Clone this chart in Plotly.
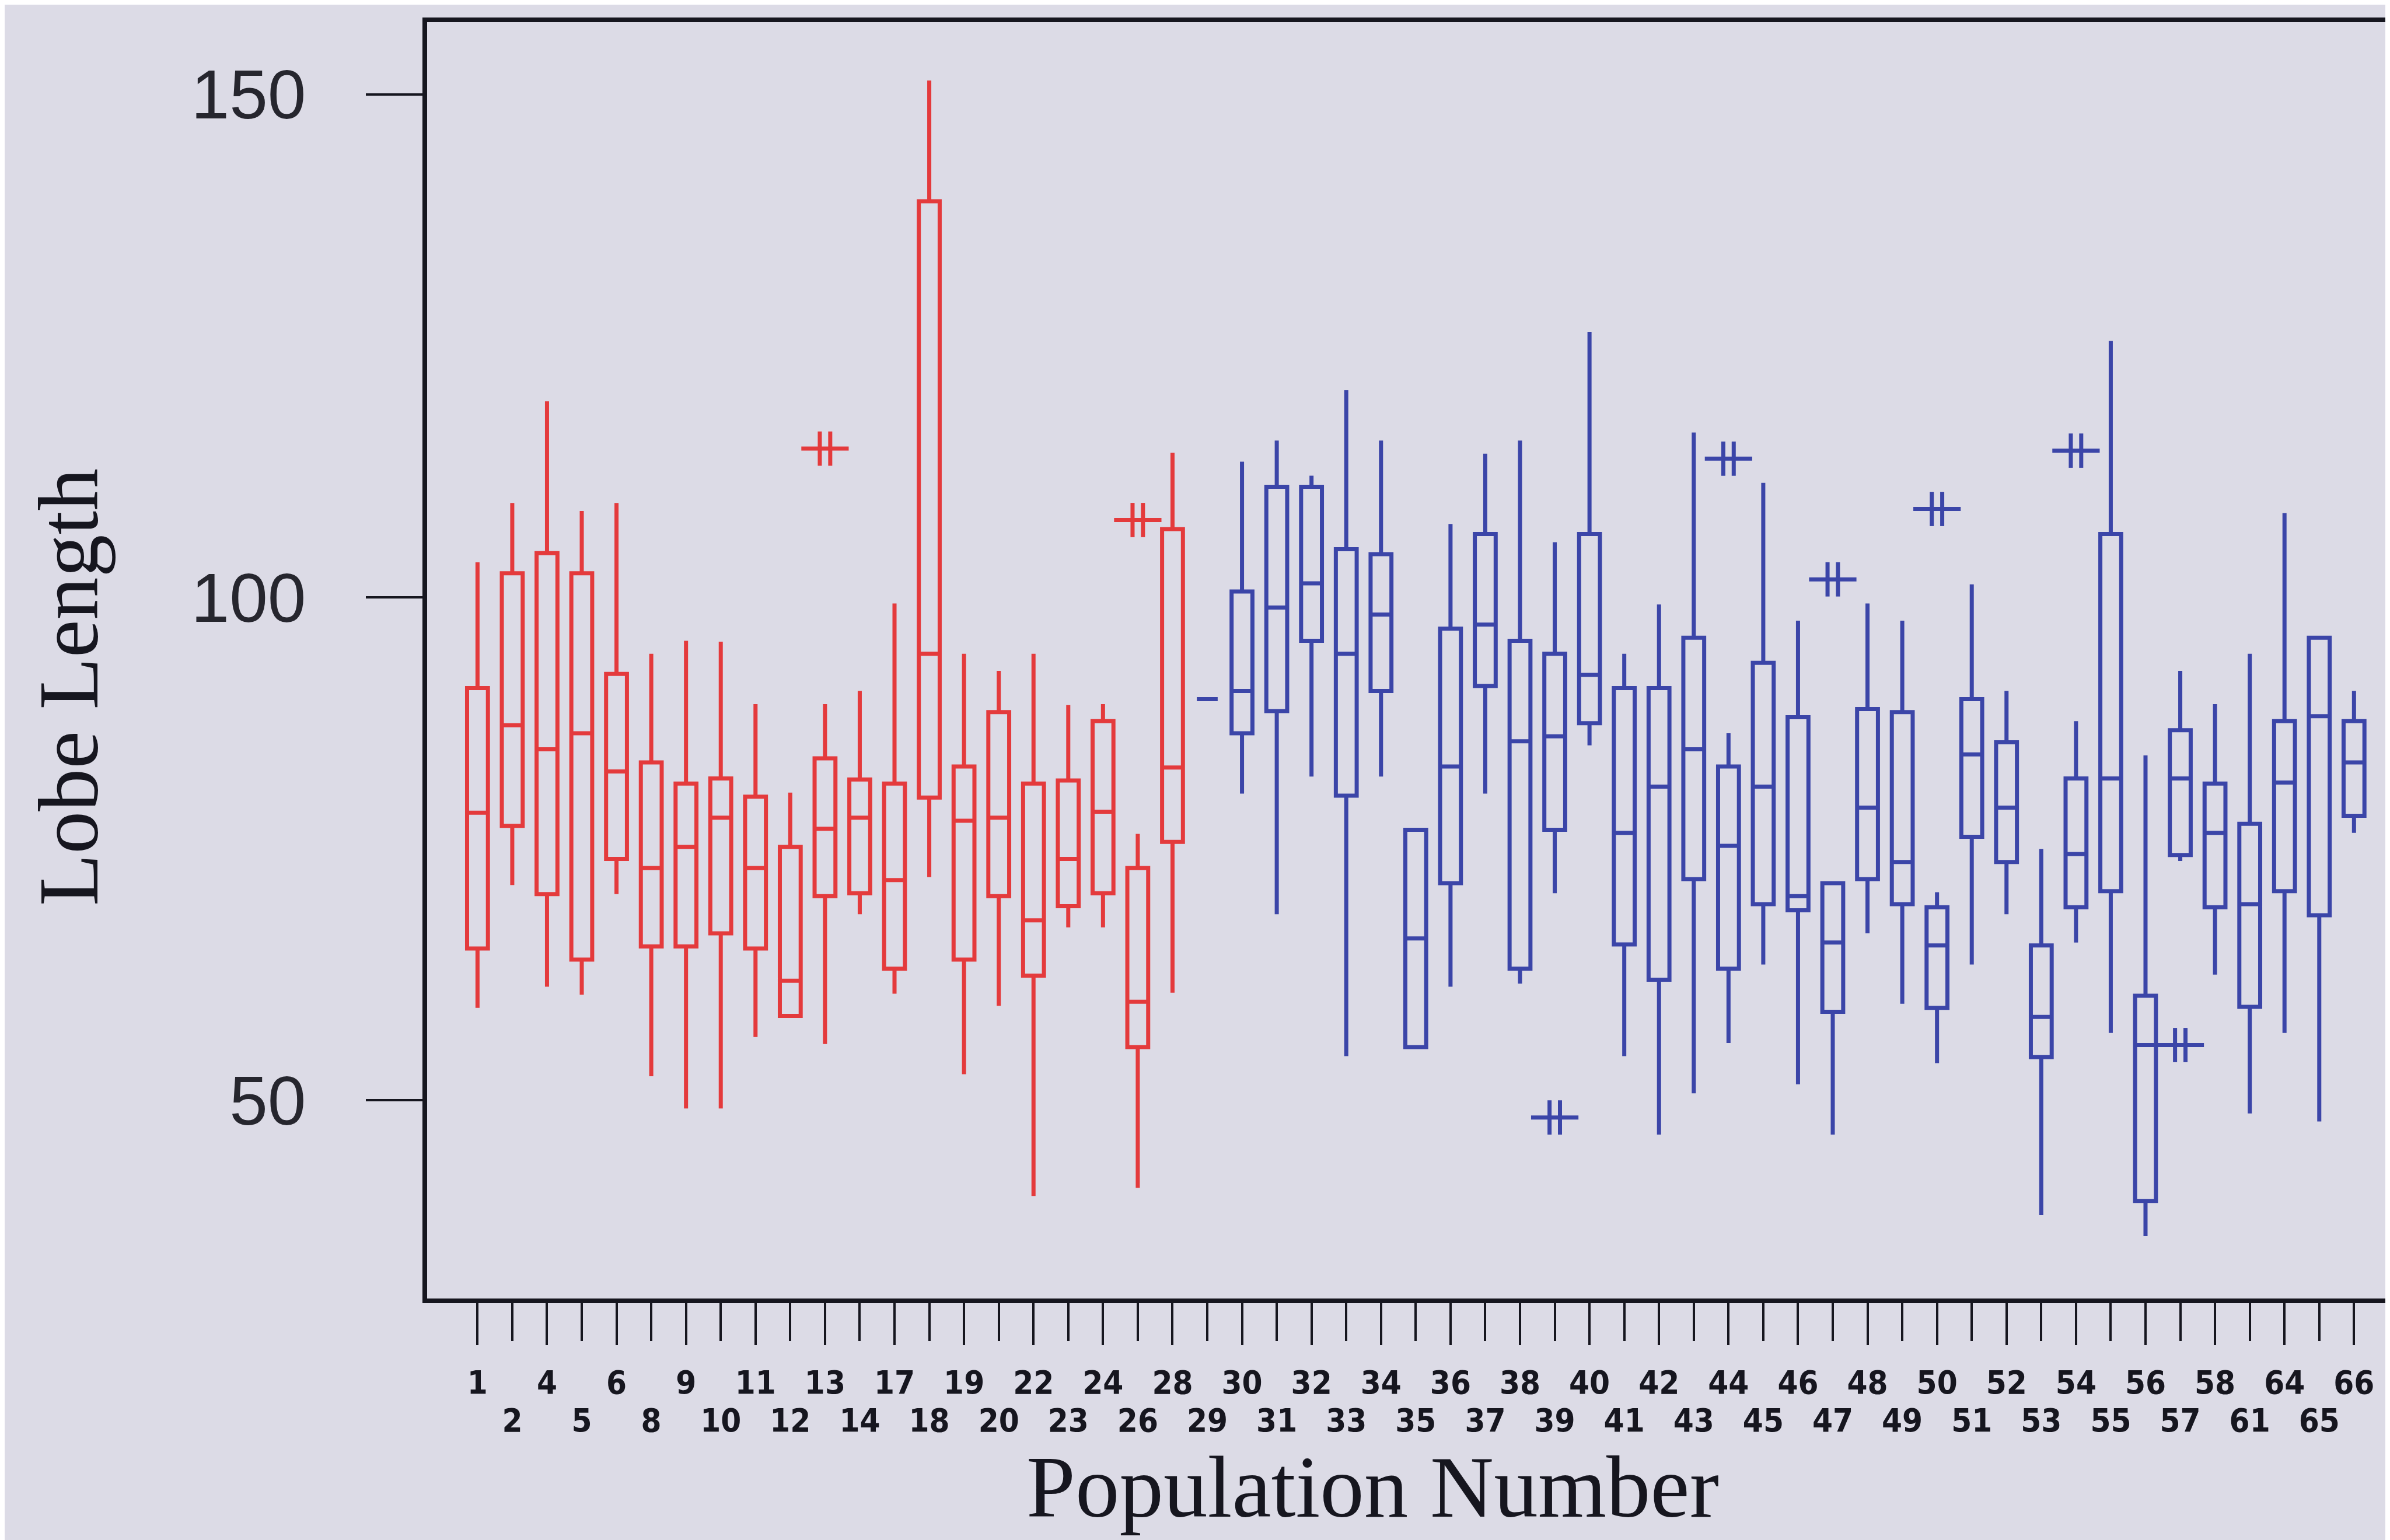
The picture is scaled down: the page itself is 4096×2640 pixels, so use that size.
import plotly.graph_objects as go

# ---------------- data ----------------
populations = [1, 2, 4, 5, 6, 8, 9, 10, 11, 12, 13, 14, 17, 18, 19, 20, 22, 23, 24, 26, 28,
               29, 30, 31, 32, 33, 34, 35, 36, 37, 38, 39, 40, 41, 42, 43, 44, 45, 46, 47, 48,
               49, 50, 51, 52, 53, 54, 55, 56, 57, 58, 61, 64, 65, 66]

red_pops = [1, 2, 4, 5, 6, 8, 9, 10, 11, 12, 13, 14, 17, 18, 19, 20, 22, 23, 24, 26, 28]
red_low = [59.2, 71.4, 61.3, 60.5, 70.5, 52.4, 49.2, 49.2, 56.3, 58.4, 55.6, 68.5, 60.6, 72.2,
           52.6, 59.4, 40.5, 67.2, 67.2, 41.3, 60.7]
red_q1 = [65.1, 77.3, 70.5, 64.0, 74.0, 65.3, 65.3, 66.6, 65.1, 58.4, 70.3, 70.6, 63.1, 80.1,
          64.0, 70.3, 62.4, 69.3, 70.6, 55.3, 75.7]
red_med = [78.6, 87.3, 84.9, 86.5, 82.7, 73.1, 75.2, 78.1, 73.1, 61.9, 77.0, 78.1, 71.9, 94.4,
           77.8, 78.1, 67.9, 74.0, 78.7, 59.8, 83.1]
red_q3 = [91.0, 102.4, 104.4, 102.4, 92.4, 83.6, 81.5, 82.0, 80.2, 75.2, 84.0, 81.9, 81.5, 139.4,
          83.2, 88.6, 81.5, 81.8, 87.7, 73.1, 106.8]
red_high = [103.5, 109.4, 119.5, 108.6, 109.4, 94.4, 95.7, 95.6, 89.4, 80.6, 89.4, 90.7, 99.4,
            151.4, 94.4, 92.7, 94.4, 89.3, 89.4, 76.5, 114.4]

blue_pops = [29, 30, 31, 32, 33, 34, 35, 36, 37, 38, 39, 40, 41, 42, 43, 44, 45, 46, 47, 48, 49,
             50, 51, 52, 53, 54, 55, 56, 57, 58, 61, 64, 65, 66]
blue_low = [89.9, 80.5, 68.5, 82.2, 54.4, 82.2, 55.3, 61.3, 80.5, 61.6, 70.6, 85.3, 54.4, 46.6,
            50.7, 55.7, 63.5, 51.6, 46.6, 66.6, 59.6, 53.7, 63.5, 68.5, 38.6, 65.7, 56.7, 36.5,
            73.8, 62.5, 48.7, 56.7, 47.9, 76.6]
blue_q1 = [89.9, 86.5, 88.7, 95.7, 80.3, 90.7, 55.3, 71.6, 91.2, 63.1, 76.9, 87.5, 65.5, 62.0,
           72.0, 63.1, 69.5, 68.9, 58.8, 72.0, 69.5, 59.2, 76.2, 73.7, 54.3, 69.2, 70.8, 40.0,
           74.4, 69.2, 59.3, 70.8, 68.4, 78.3]
blue_med = [89.9, 90.7, 99.0, 101.4, 94.4, 98.3, 66.1, 83.2, 97.3, 85.7, 86.2, 92.3, 76.6, 81.2,
            84.9, 75.3, 81.2, 70.3, 65.7, 79.1, 73.7, 65.4, 84.4, 79.1, 58.3, 74.5, 82.0, 55.5,
            82.0, 76.6, 69.5, 81.6, 88.2, 83.6]
blue_q3 = [89.9, 100.6, 111.0, 111.0, 104.8, 104.3, 76.9, 96.9, 106.3, 95.7, 94.4, 106.3, 91.0,
           91.0, 96.0, 83.2, 93.5, 88.1, 71.6, 88.9, 88.6, 69.2, 89.9, 85.6, 65.4, 82.0, 106.3,
           60.4, 86.8, 81.5, 77.5, 87.7, 96.0, 87.7]
blue_high = [89.9, 113.5, 115.6, 112.1, 120.6, 115.6, 76.9, 107.3, 114.3, 115.6, 105.5, 126.4,
             94.4, 99.3, 116.4, 86.5, 111.4, 97.7, 71.6, 99.4, 97.7, 70.7, 101.3, 90.7, 75.0,
             87.7, 125.5, 84.3, 92.7, 89.4, 94.4, 108.4, 96.0, 90.7]

red_out_pops = [13, 26]
red_out_vals = [114.8, 107.7]
blue_out_pops = [39, 44, 47, 50, 54, 57]
blue_out_vals = [48.3, 113.8, 101.8, 108.8, 114.6, 55.5]

y_ticks = [50, 100, 150]

# ---------------- styling ----------------
BG = "#dcdbe6"
RED = "#e43a3c"
BLUE = "#3b45a8"
INK = "#16161f"
X_RANGE = [-1.45, 55.17]

pos = {p: i for i, p in enumerate(populations)}
row1_idx = [i for i in range(len(populations)) if i % 2 == 0]
row2_idx = [i for i in range(len(populations)) if i % 2 == 1]

fig = go.Figure()


def add_boxes(pops, low, q1, med, q3, high, color):
    fig.add_trace(go.Box(
        x=[pos[p] for p in pops],
        lowerfence=low, q1=q1, median=med, q3=q3, upperfence=high,
        boxpoints=False,
        width=0.6,
        whiskerwidth=0,
        line=dict(color=color, width=7),
        fillcolor="rgba(0,0,0,0)",
        showlegend=False,
    ))


def add_outliers(pops, vals, color):
    # Minitab-style outlier glyph: a horizontal stroke crossed by two short vertical strokes
    xs = [pos[p] for p in pops]
    fig.add_trace(go.Scatter(
        x=xs, y=vals, mode="markers",
        marker=dict(symbol="line-ew-open", size=58, color=color,
                    line=dict(color=color, width=7)),
        showlegend=False,
    ))
    for dx in (-0.15, 0.15):
        fig.add_trace(go.Scatter(
            x=[x + dx for x in xs], y=vals, mode="markers",
            marker=dict(symbol="line-ns-open", size=42, color=color,
                        line=dict(color=color, width=7)),
            showlegend=False,
        ))


add_boxes(red_pops, red_low, red_q1, red_med, red_q3, red_high, RED)
add_boxes(blue_pops, blue_low, blue_q1, blue_med, blue_q3, blue_high, BLUE)
add_outliers(red_out_pops, red_out_vals, RED)
add_outliers(blue_out_pops, blue_out_vals, BLUE)

# invisible helper trace so the second (lower-row) label axis is always drawn
fig.add_trace(go.Scatter(x=[row2_idx[0]], y=[y_ticks[0]], xaxis="x2", mode="markers",
                         marker=dict(opacity=0), hoverinfo="skip", showlegend=False))

tick_font = dict(family="Liberation Sans Narrow, DejaVu Sans Condensed, Liberation Sans",
                 size=56, color=INK, weight="bold")

fig.update_layout(
    width=4096, height=2640,
    paper_bgcolor=BG, plot_bgcolor=BG,
    margin=dict(l=724, r=0, t=30, b=422, pad=0),
    showlegend=False,
    xaxis=dict(
        range=X_RANGE,
        tickmode="array",
        tickvals=row1_idx,
        ticktext=[str(populations[i]) for i in row1_idx],
        tickangle=0,
        ticks="outside", ticklen=72, tickwidth=4, tickcolor=INK,
        showline=True, linewidth=8, linecolor=INK, mirror=True,
        showgrid=False, zeroline=False,
        ticklabelstandoff=16,
        tickfont=tick_font,
    ),
    xaxis2=dict(
        overlaying="x", anchor="y", side="bottom",
        range=X_RANGE,
        tickmode="array",
        tickvals=row2_idx,
        ticktext=[str(populations[i]) for i in row2_idx],
        tickangle=0,
        ticks="outside", ticklen=72, tickwidth=4, tickcolor=INK,
        showline=False, showgrid=False, zeroline=False,
        ticklabelstandoff=88,
        tickfont=tick_font,
    ),
    yaxis=dict(
        range=[30.3, 157.2],
        tickmode="array", tickvals=y_ticks,
        ticks="outside", ticklen=97, tickwidth=4, tickcolor=INK,
        showline=True, linewidth=8, linecolor=INK, mirror=False,
        showgrid=False, zeroline=False,
        ticklabelstandoff=79,
        tickfont=dict(family="Liberation Sans, Arial", size=118, color="#26262e"),
    ),
    annotations=[
        dict(text="Lobe Length", xref="paper", yref="paper", x=-0.1821, y=0.479,
             xanchor="center", yanchor="middle", textangle=-90, showarrow=False,
             font=dict(family="Liberation Serif, Times New Roman", size=146, color=INK)),
        dict(text="Population Number", xref="paper", yref="paper", x=0.4805, y=-0.1478,
             xanchor="center", yanchor="middle", showarrow=False,
             font=dict(family="Liberation Serif, Times New Roman", size=151, color=INK)),
    ],
)

fig.write_html("out.html")
